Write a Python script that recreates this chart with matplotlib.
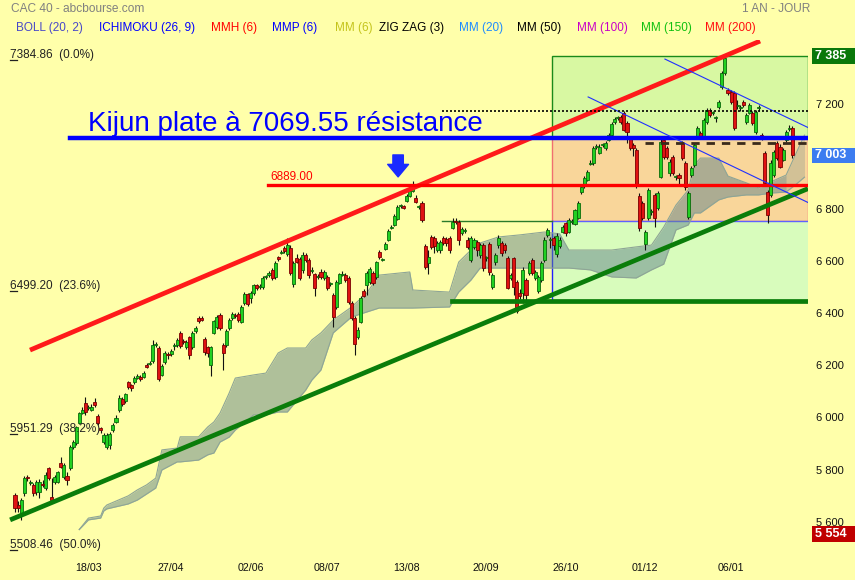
import numpy as np
import matplotlib.pyplot as plt
from matplotlib.patches import Rectangle
from matplotlib.transforms import blended_transform_factory

plt.rcParams['font.family'] = ['Liberation Sans', 'DejaVu Sans']

# CAC 40 daily candles, one year
opens = [
    5703, 5665, 5634, 5711, 5772, 5749, 5742, 5715, 5715, 5745,
    5730, 5807, 5696, 5753, 5753, 5826, 5772, 5776, 5807, 5887,
    5902, 5979, 6017, 6056, 6036, 6029, 6059, 6006, 5960, 5906,
    5887, 5895, 5952, 5983, 6029, 6071, 6063, 6136, 6124, 6136,
    6153, 6155, 6155, 6201, 6205, 6216, 6278, 6266, 6163, 6212,
    6243, 6243, 6274, 6278, 6324, 6293, 6270, 6308, 6270, 6331,
    6381, 6381, 6301, 6270, 6201, 6324, 6346, 6392, 6278, 6278,
    6343, 6381, 6392, 6396, 6366, 6438, 6473, 6457, 6477, 6507,
    6500, 6500, 6536, 6545, 6565, 6538, 6615, 6630, 6649, 6626,
    6649, 6511, 6611, 6607, 6565, 6622, 6603, 6560, 6549, 6538,
    6557, 6534, 6538, 6512, 6469, 6423, 6515, 6545, 6545, 6534,
    6438, 6381, 6308, 6366, 6484, 6507, 6519, 6553, 6538, 6634,
    6603, 6645, 6680, 6725, 6737, 6760, 6808, 6810, 6829, 6848,
    6867, 6840, 6806, 6821, 6656, 6591, 6691, 6687, 6641, 6641,
    6687, 6684, 6687, 6725, 6750, 6748, 6706, 6714, 6680, 6603,
    6653, 6672, 6622, 6660, 6609, 6664, 6500, 6595, 6660, 6668,
    6660, 6611, 6534, 6611, 6519, 6477, 6477, 6526, 6553, 6603,
    6534, 6484, 6526, 6603, 6699, 6678, 6687, 6626, 6656, 6710,
    6745, 6710, 6748, 6741, 6764, 6863, 6886, 6909, 6972, 6974,
    7034, 7013, 7042, 7032, 7062, 7081, 7131, 7145, 7150, 7166,
    7127, 7070, 7043, 7024, 6848, 6821, 6664, 6764, 6785, 6852,
    6802, 6921, 7062, 7032, 6936, 6997, 6919, 6928, 7051, 6974,
    6768, 6928, 6967, 7074, 7089, 7074, 7131, 7177, 7164, 7145,
    7189, 7265, 7319, 7254, 7246, 7242, 7194, 7183, 7208, 7131,
    7166, 7166, 7093, 7183, 7081, 7013, 6863, 6852, 6928, 7051,
    7036, 6986, 7062, 7106, 7108,
]
highs = [
    5710, 5680, 5692, 5775, 5780, 5762, 5750, 5760, 5765, 5760,
    5790, 5812, 5770, 5780, 5795, 5850, 5825, 5790, 5895, 5912,
    5968, 6022, 6040, 6080, 6048, 6050, 6075, 6015, 5965, 5940,
    5940, 5945, 5980, 6010, 6085, 6078, 6095, 6140, 6130, 6158,
    6165, 6162, 6178, 6208, 6215, 6295, 6290, 6275, 6205, 6255,
    6250, 6262, 6285, 6305, 6330, 6300, 6295, 6312, 6330, 6350,
    6390, 6388, 6310, 6275, 6275, 6375, 6392, 6400, 6285, 6340,
    6380, 6402, 6400, 6402, 6430, 6480, 6478, 6485, 6512, 6512,
    6510, 6540, 6545, 6560, 6572, 6600, 6620, 6640, 6655, 6687,
    6660, 6600, 6625, 6615, 6632, 6630, 6610, 6575, 6555, 6550,
    6568, 6565, 6545, 6520, 6475, 6525, 6555, 6560, 6555, 6540,
    6445, 6388, 6345, 6465, 6490, 6560, 6575, 6560, 6600, 6640,
    6612, 6670, 6720, 6735, 6778, 6812, 6818, 6815, 6855, 6875,
    6906, 6850, 6815, 6828, 6665, 6640, 6700, 6695, 6675, 6680,
    6695, 6690, 6695, 6765, 6765, 6755, 6730, 6725, 6690, 6695,
    6688, 6680, 6668, 6668, 6620, 6670, 6555, 6630, 6700, 6675,
    6668, 6620, 6555, 6615, 6525, 6490, 6575, 6535, 6600, 6612,
    6565, 6545, 6600, 6690, 6725, 6690, 6695, 6705, 6690, 6738,
    6750, 6765, 6760, 6800, 6830, 6890, 6925, 6948, 6985, 7040,
    7045, 7045, 7050, 7058, 7090, 7130, 7150, 7155, 7158, 7175,
    7135, 7078, 7050, 7030, 6860, 6830, 6718, 6880, 6798, 6860,
    6868, 7065, 7070, 7040, 6988, 7005, 6930, 6935, 7060, 6982,
    6868, 6962, 7052, 7115, 7095, 7145, 7185, 7185, 7172, 7155,
    7215, 7325, 7385, 7262, 7255, 7250, 7215, 7195, 7215, 7165,
    7205, 7172, 7178, 7195, 7088, 7020, 6870, 6985, 7025, 7060,
    7045, 7032, 7100, 7120, 7115,
]
lows = [
    5640, 5640, 5608, 5700, 5755, 5740, 5700, 5705, 5690, 5735,
    5722, 5760, 5680, 5745, 5748, 5805, 5765, 5740, 5800, 5880,
    5895, 5975, 6012, 6010, 6028, 6025, 6040, 5970, 5940, 5898,
    5880, 5880, 5945, 5978, 6022, 6045, 6056, 6110, 6100, 6130,
    6148, 6140, 6150, 6188, 6200, 6210, 6270, 6140, 6158, 6205,
    6225, 6235, 6260, 6270, 6265, 6282, 6262, 6225, 6262, 6325,
    6362, 6368, 6240, 6232, 6160, 6318, 6340, 6335, 6180, 6270,
    6335, 6375, 6380, 6365, 6360, 6432, 6425, 6440, 6470, 6488,
    6490, 6490, 6530, 6538, 6525, 6530, 6600, 6625, 6630, 6620,
    6545, 6500, 6590, 6525, 6555, 6595, 6535, 6555, 6465, 6530,
    6530, 6525, 6488, 6505, 6345, 6415, 6510, 6540, 6520, 6435,
    6375, 6240, 6300, 6360, 6460, 6470, 6512, 6508, 6530, 6608,
    6598, 6640, 6675, 6720, 6732, 6755, 6802, 6798, 6825, 6845,
    6862, 6820, 6800, 6750, 6570, 6550, 6645, 6630, 6635, 6630,
    6660, 6655, 6630, 6720, 6740, 6660, 6700, 6705, 6645, 6595,
    6645, 6620, 6610, 6560, 6600, 6545, 6490, 6585, 6650, 6620,
    6630, 6490, 6525, 6470, 6400, 6455, 6440, 6438, 6545, 6545,
    6528, 6475, 6520, 6595, 6690, 6650, 6640, 6615, 6650, 6705,
    6695, 6705, 6740, 6735, 6758, 6855, 6880, 6905, 6965, 6968,
    7028, 7008, 7035, 7025, 7058, 7075, 7125, 7140, 7125, 7095,
    7050, 7025, 7000, 6880, 6715, 6755, 6640, 6755, 6775, 6730,
    6795, 6915, 6990, 6990, 6925, 6930, 6910, 6890, 6985, 6872,
    6760, 6920, 6960, 7068, 7068, 7068, 7125, 7152, 7158, 7130,
    7182, 7258, 7312, 7235, 7200, 7100, 7180, 7175, 7190, 7125,
    7160, 7120, 7085, 7175, 7062, 6890, 6745, 6845, 6920, 6985,
    6955, 6980, 7055, 7095, 6995,
]
closes = [
    5654, 5654, 5684, 5768, 5768, 5753, 5711, 5753, 5753, 5742,
    5780, 5768, 5684, 5772, 5791, 5811, 5818, 5761, 5887, 5906,
    5964, 6017, 6029, 6021, 6040, 6040, 6048, 5979, 5952, 5933,
    5933, 5937, 5971, 5998, 6075, 6052, 6090, 6117, 6113, 6151,
    6157, 6147, 6170, 6193, 6209, 6278, 6282, 6147, 6197, 6247,
    6239, 6255, 6278, 6297, 6274, 6289, 6289, 6239, 6324, 6343,
    6369, 6373, 6251, 6247, 6270, 6369, 6385, 6343, 6247, 6331,
    6373, 6396, 6388, 6373, 6423, 6473, 6435, 6477, 6507, 6496,
    6503, 6534, 6538, 6553, 6534, 6591, 6607, 6634, 6637, 6660,
    6553, 6591, 6595, 6534, 6622, 6603, 6545, 6565, 6496, 6542,
    6538, 6557, 6496, 6515, 6385, 6519, 6549, 6547, 6526, 6442,
    6381, 6281, 6335, 6457, 6465, 6553, 6568, 6515, 6595, 6615,
    6607, 6664, 6714, 6729, 6771, 6806, 6810, 6802, 6848, 6867,
    6886, 6825, 6808, 6756, 6575, 6615, 6653, 6656, 6668, 6672,
    6668, 6668, 6641, 6748, 6748, 6680, 6722, 6718, 6653, 6687,
    6680, 6641, 6660, 6572, 6611, 6557, 6545, 6622, 6687, 6630,
    6641, 6496, 6545, 6500, 6408, 6465, 6565, 6469, 6591, 6553,
    6557, 6538, 6591, 6680, 6718, 6682, 6660, 6695, 6680, 6729,
    6706, 6756, 6752, 6794, 6821, 6882, 6917, 6940, 6976, 7032,
    7036, 7036, 7043, 7051, 7081, 7124, 7143, 7147, 7131, 7101,
    7093, 7032, 7032, 6890, 6725, 6764, 6710, 6871, 6789, 6764,
    6859, 7055, 6997, 6997, 6978, 6936, 6921, 6917, 6993, 6882,
    6859, 6955, 7043, 7108, 7074, 7139, 7177, 7158, 7166, 7147,
    7208, 7319, 7376, 7242, 7208, 7108, 7196, 7185, 7196, 7158,
    7196, 7127, 7170, 7185, 7070, 6898, 6775, 6974, 7016, 6993,
    6959, 7024, 7093, 7108, 7003,
]

date_ticks = [24, 51, 77, 102, 128, 154, 180, 206, 234]
date_labels = ['18/03', '27/04', '02/06', '08/07', '13/08', '20/09', '26/10', '01/12', '06/01']

# ichimoku cloud (senkou A / B), last points projected forward
cloud_idx = [21, 24, 28, 29, 30, 37, 40, 43, 46, 48, 53, 54, 60, 63, 65, 67, 70, 72, 78, 82,
             86, 89, 95, 97, 100, 104, 110, 115, 119, 129, 130, 142, 145, 149, 152, 158, 165, 173, 178, 181,
             188, 195, 203, 208, 212, 216, 220, 222, 224, 230, 233, 239, 243, 247, 252, 255, 258]
cloud_top = [5571, 5615, 5623, 5653, 5665, 5700, 5723, 5742, 5768, 5876, 5883, 5926, 5926, 5964, 5983, 6017, 6094, 6151, 6163, 6170,
             6247, 6266, 6266, 6297, 6324, 6373, 6423, 6477, 6545, 6557, 6488, 6480, 6595, 6641, 6668, 6691, 6699, 6710, 6703, 6641,
             6641, 6641, 6653, 6660, 6729, 6813, 6871, 6967, 6993, 6993, 6924, 6898, 6879, 6902, 6928, 7005, 7081]
cloud_bot = [5571, 5608, 5615, 5642, 5650, 5669, 5684, 5707, 5730, 5799, 5830, 5830, 5837, 5857, 5864, 5906, 5925, 5952, 6010, 6010,
             6021, 6021, 6105, 6143, 6182, 6324, 6385, 6404, 6419, 6419, 6419, 6423, 6480, 6526, 6572, 6572, 6572, 6572, 6572, 6572,
             6565, 6538, 6534, 6565, 6587, 6718, 6737, 6783, 6783, 6833, 6844, 6852, 6852, 6859, 6863, 6890, 6920]

fib_levels = [7384.86, 6499.20, 5951.29, 5508.46]
fib_pcts = [0.0, 23.6, 38.2, 50.0]

kijun = 7069.55
resist = 6889.00
support = 6445
box_mid = 6752
dotted_level = 7174
dashed_level = 7052
low_mark = 5554

red_trend = ([4.9, 243.5], [6258, 7441])
green_trend = ([-1.6, 259.15], [5608, 6876])
chan_a = ([187.3, 259.5], [7227, 6821])
chan_b = ([212.4, 259.5], [7372, 7108])

indicators = [
    ('BOLL (20, 2)', '#4848c8', 16), ('ICHIMOKU (26, 9)', '#0000ff', 99),
    ('MMH (6)', '#ff0000', 211), ('MMP (6)', '#0000ff', 272),
    ('MM (6)', '#c4c41c', 335), ('ZIG ZAG (3)', '#000000', 379),
    ('MM (20)', '#1e8cff', 459), ('MM (50)', '#000000', 517),
    ('MM (100)', '#c800c8', 577), ('MM (150)', '#10c010', 641),
    ('MM (200)', '#ff1010', 705),
]

bg = '#ffffaa'
W, H = 855, 580
fig = plt.figure(figsize=(W / 100, H / 100), dpi=100)
fig.patch.set_facecolor(bg)
ax = fig.add_axes([0, 20 / H, 808 / W, 520 / H])
ax.set_facecolor(bg)
x_right = 259.15
ax.set_xlim(-4.9, x_right)
ax.set_ylim(5454.5, 7445)
for s in ax.spines.values():
    s.set_visible(False)

tr = blended_transform_factory(ax.transAxes, ax.transData)

# price zones on the right
box_left = 175.5
top_price = max(highs)
zw = x_right - box_left
ax.add_patch(Rectangle((box_left, kijun), zw, top_price - kijun, fc='#d8f8a2', ec='#1a8a1a', lw=1, zorder=1))
ax.add_patch(Rectangle((box_left, box_mid), zw, kijun - box_mid, fc='#f9d69a', ec='#f07070', lw=1, zorder=1))
ax.add_patch(Rectangle((box_left, support), zw, box_mid - support, fc='#d8fcbc', ec='none', zorder=1))
ax.plot([box_left, box_left], [support, box_mid], color='#2020ff', lw=1, zorder=1.5)
ax.plot([box_left, x_right], [box_mid, box_mid], color='#6060ff', lw=1, zorder=1.5)
ax.plot([139.5, box_left], [box_mid, box_mid], color='#2a7a2a', lw=1, zorder=1.5)

# cloud
ci = np.array(cloud_idx)
ct = np.array(cloud_top)
cb = np.array(cloud_bot)
k = int(np.searchsorted(ci, 252))
ax.fill_between(ci[:k + 1], cb[:k + 1], ct[:k + 1], color='#61838c', alpha=0.5, lw=0, zorder=2)
ax.fill_between(ci[k:], cb[k:], ct[k:], color='#61838c', alpha=0.25, lw=0, zorder=2)
ax.plot(ci, ct, color='#8ea596', lw=0.8, zorder=2)
ax.plot(ci, cb, color='#8ea596', lw=0.8, zorder=2)

# candles
o = np.array(opens, dtype=float)
c = np.array(closes, dtype=float)
hi = np.array(highs, dtype=float)
lo = np.array(lows, dtype=float)
idx = np.arange(len(c))
up = c >= o
body_low = np.minimum(o, c)
body_h = np.maximum(np.abs(c - o), 4)
ax.vlines(idx, lo, hi, color='#111111', lw=0.8, zorder=3)
ax.bar(idx[up], body_h[up], bottom=body_low[up], width=1.0, color='#22d022',
       edgecolor='#0a6a0a', lw=0.6, zorder=4)
ax.bar(idx[~up], body_h[~up], bottom=body_low[~up], width=1.0, color='#e01212',
       edgecolor='#7a0000', lw=0.6, zorder=4)

# trend lines and levels
ax.plot(*red_trend, color='#ff1a1a', lw=3.4, solid_capstyle='butt', zorder=5)
ax.plot(*green_trend, color='#0a7d0a', lw=3.4, solid_capstyle='butt', zorder=5)
ax.plot([18, x_right], [kijun, kijun], color='#0000ff', lw=3.2, zorder=5)
ax.plot([82.7, x_right], [resist, resist], color='#ff0000', lw=2.4, zorder=5)
ax.plot([142.8, x_right], [support, support], color='#0a7d0a', lw=3.4, zorder=5)
ax.plot(*chan_a, color='#2030ff', lw=0.8, zorder=5)
ax.plot(*chan_b, color='#2030ff', lw=0.8, zorder=5)
ax.plot([139.5, x_right], [dotted_level, dotted_level], color='#000000', lw=1.2,
        ls=(0, (1.2, 1.2)), zorder=5)
ax.plot([206, x_right], [dashed_level, dashed_level], color='#3a2a1a', lw=2,
        ls=(0, (3, 2.5)), zorder=5)

ax.annotate('', xy=(125.2, 6921), xytext=(125.2, 7005),
            arrowprops=dict(arrowstyle='simple,head_length=0.9,head_width=1.5,tail_width=0.75',
                            color='#1a2aff', mutation_scale=10, shrinkA=0, shrinkB=0),
            zorder=7)

ax.text(23.9, 7097, f'Kijun plate à {kijun:.2f} résistance', color='#0000ff',
        fontsize=20, va='baseline', ha='left', zorder=8)
ax.text(83.3, resist + 10, f'{resist:.2f}', color='#ff0000', fontsize=8.5, va='bottom', zorder=8)

# fibonacci levels, first digit underlined
for lvl, pct in zip(fib_levels, fib_pcts):
    ax.text(10 / 808, lvl - 8, f'{lvl:.2f}  ({pct:.1f}%)', transform=tr, fontsize=8.5,
            color='#222222', va='baseline', zorder=8)
    ax.plot([10 / 808, 16.5 / 808], [lvl - 16, lvl - 16], transform=tr, color='#222222',
            lw=0.9, clip_on=False, zorder=8)


def fmt(v):
    return f'{int(round(v)):,}'.replace(',', ' ')


# axes ticks; the 7 000 label sits under the last-close tag
ax.yaxis.tick_right()
yt = list(range(5600, 7401, 200))
ax.set_yticks(yt, ['' if v == 7000 else fmt(v) for v in yt])
ax.tick_params(axis='y', length=0, pad=6, labelsize=8, labelcolor='#111111')
ax.set_xticks(date_ticks, date_labels)
ax.tick_params(axis='x', length=0, pad=2.5, labelsize=7.7, labelcolor='#111111')


def price_tag(value, fc):
    ax.add_patch(Rectangle((812 / 808, value - 30.5), 43 / 808, 61, transform=tr, fc=fc,
                           ec='none', clip_on=False, zorder=9))
    ax.text(815 / 808, value, fmt(value), transform=tr, color='white', fontsize=9,
            fontweight='bold', va='center', ha='left', zorder=10, clip_on=False)


price_tag(top_price, '#0a780a')
price_tag(closes[-1], '#3c7cf0')
price_tag(low_mark, '#c00000')

fig.text(11 / W, 1 - 9 / H, 'CAC 40 - abcbourse.com', color='#808080', fontsize=8.6, va='center')
fig.text(742 / W, 1 - 9 / H, '1 AN - JOUR', color='#808080', fontsize=8.6, va='center')
for label, col, xp in indicators:
    fig.text(xp / W, 1 - 28 / H, label, color=col, fontsize=8.5, va='center')

fig.savefig('out.png', dpi=100, facecolor=fig.get_facecolor())
